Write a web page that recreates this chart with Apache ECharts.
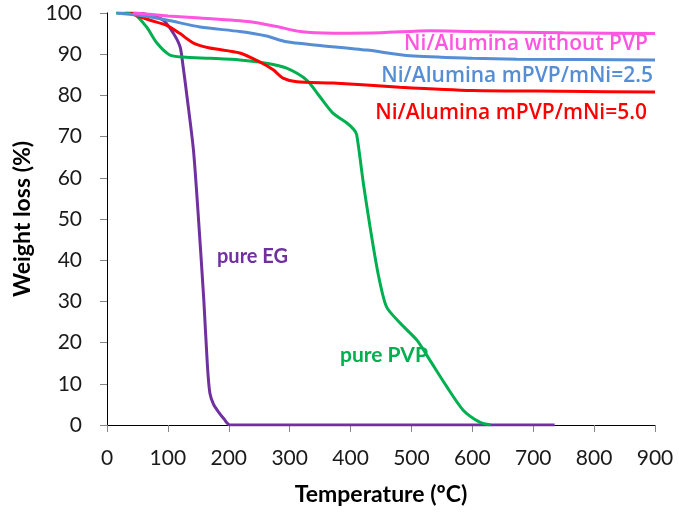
<!DOCTYPE html>
<html><head><meta charset="utf-8">
<script src="https://cdn.jsdelivr.net/npm/echarts@6/dist/echarts.min.js"></script>
<style>html,body{margin:0;padding:0;background:#fff}#c{width:679px;height:516px}</style>
</head><body><div id="c"></div>
<script>
var xTicks = [0,100,200,300,400,500,600,700,800,900];
var yTicks = [0,10,20,30,40,50,60,70,80,90,100];

var egT = [30,60,92,109,120,125,132,142,150,159,165,169,175,183,192,202,735];
var egW = [100,99.8,98.3,95.1,91.8,87,79,66.7,50.6,30.3,14.2,7.7,5,3.2,1.5,0,0];

var pvpT = [15,43,65,82,103,125,169,218,262,295,328,350,371,394,405,410,421,432,445,459,481,509,530,558,585,612,630];
var pvpW = [100,99.8,96.6,92.7,89.8,89.3,89,88.6,87.8,86.6,83.7,79.6,75.7,73.3,71.8,70.5,58.7,48.1,36.9,28.7,24.8,20.6,15.8,9.3,3.6,0.7,0];

var r50T = [38,70,98,120,142,169,218,251,273,289,312,371,481,600,750,900];
var r50W = [100,98.3,97,95,92.7,91.5,90.3,88.1,86.2,84.2,83.3,83,82,81.2,81,80.8];

var r25T = [16,50,98,153,218,262,295,345,427,498,600,673,900];
var r25W = [100,99.5,98.3,96.6,95.5,94.4,93,92.2,91,89.6,89,88.8,88.6];

var noT = [43,100,153,235,279,317,371,450,530,600,750,900];
var noW = [100,99.3,98.8,97.9,96.7,95.5,95.1,95.2,95.7,95.5,95.2,95];

function pairs(t,w){return t.map(function(v,i){return [v,w[i]];});}

var chart = echarts.init(document.getElementById('c'));
function line(name, t, w, color){
  return {name:name,type:'line',data:pairs(t,w),showSymbol:false,smooth:0.25,
    lineStyle:{color:color,width:3},itemStyle:{color:color},z:3};
}
var LBL = '600 21px "Open Sans"';
chart.setOption({
  animation:false,
  grid:{left:107,right:24,top:13,bottom:91},
  xAxis:[{type:'value',min:0,max:900,interval:100,
    axisLine:{lineStyle:{color:'#868686',width:1}},
    axisTick:{show:true,length:7,lineStyle:{color:'#868686'}},
    splitLine:{show:false},
    axisLabel:{color:'#1a1a1a',fontFamily:'Lato',fontSize:21,margin:23},
    name:'Temperature (ºC)',nameLocation:'middle',nameGap:58,
    nameTextStyle:{color:'#000',fontFamily:'Lato',fontSize:23,fontWeight:'bold'}},
   {type:'value',position:'top',min:0,max:900,axisLine:{show:true,lineStyle:{color:'#000',width:1}},axisTick:{show:false},axisLabel:{show:false},splitLine:{show:false}}],
  yAxis:[{type:'value',min:0,max:100,interval:10,
    axisLine:{show:true,lineStyle:{color:'#868686',width:1}},
    axisTick:{show:true,length:7,lineStyle:{color:'#868686'}},
    splitLine:{show:false},
    axisLabel:{color:'#1a1a1a',fontFamily:'Lato',fontSize:21,margin:25},
    name:'Weight loss (%)',nameLocation:'middle',nameGap:67,
    nameTextStyle:{color:'#000',fontFamily:'Lato',fontSize:23,fontWeight:'bold'}},
   {type:'value',position:'right',min:0,max:100,axisLine:{show:true,lineStyle:{color:'#000',width:1}},axisTick:{show:false},axisLabel:{show:false},splitLine:{show:false}}],
  series:[
    line('pure EG', egT, egW, '#7030A0'),
    line('pure PVP', pvpT, pvpW, '#00B050'),
    line('Ni/Alumina mPVP/mNi=5.0', r50T, r50W, '#FF0000'),
    line('Ni/Alumina mPVP/mNi=2.5', r25T, r25W, '#558ED5'),
    line('Ni/Alumina without PVP', noT, noW, '#FF55E0')
  ],
  graphic:[
    {type:'text',x:648,y:44,style:{text:'Ni/Alumina without PVP',fill:'#FF55E0',font:LBL,textAlign:'right',textVerticalAlign:'middle'}},
    {type:'text',x:653,y:76,style:{text:'Ni/Alumina mPVP/mNi=2.5',fill:'#558ED5',font:LBL,textAlign:'right',textVerticalAlign:'middle'}},
    {type:'text',x:647,y:113,style:{text:'Ni/Alumina mPVP/mNi=5.0',fill:'#FF0000',font:LBL,textAlign:'right',textVerticalAlign:'middle'}},
    {type:'text',x:217,y:257,style:{text:'pure EG',fill:'#7030A0',font:'bold 20px Lato',textAlign:'left',textVerticalAlign:'middle'}},
    {type:'text',x:340,y:355,style:{text:'pure PVP',fill:'#00B050',font:'bold 21px Lato',textAlign:'left',textVerticalAlign:'middle'}}
  ]
});
</script></body></html>
